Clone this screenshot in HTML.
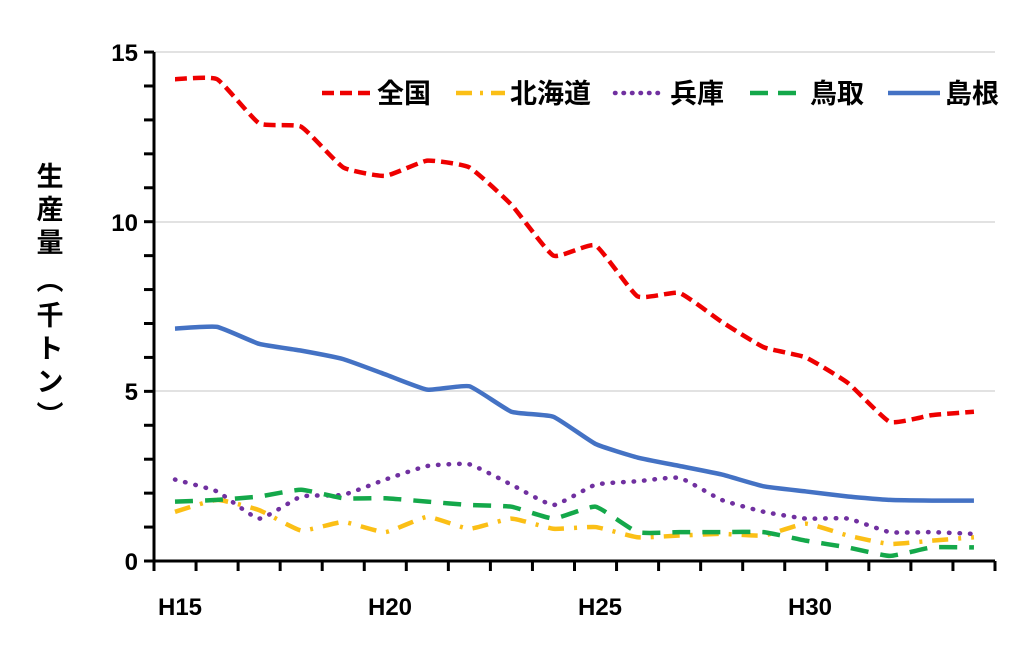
<!DOCTYPE html>
<html><head><meta charset="utf-8"><style>
body{margin:0;background:#fff;}
svg text{font-family:"Liberation Sans","Noto Sans CJK JP",sans-serif;font-weight:bold;fill:#000;}
</style></head><body>
<svg id="s" width="1024" height="642" xmlns="http://www.w3.org/2000/svg">
<g stroke="#d9d9d9" stroke-width="1.5">
<line x1="154" y1="52" x2="995" y2="52"/><line x1="154" y1="222" x2="995" y2="222"/><line x1="154" y1="391" x2="995" y2="391"/>
</g>
<g id="ax" stroke="#000" stroke-width="3"></g>
<g font-size="24" text-anchor="end">
<text x="138" y="61">15</text><text x="138" y="231">10</text><text x="138" y="400">5</text><text x="138" y="570">0</text>
</g>
<g font-size="24" text-anchor="middle">
<text x="180" y="615">H15</text><text x="390" y="615">H20</text><text x="600" y="615">H25</text><text x="810" y="615">H30</text>
</g>
<g font-size="27" text-anchor="middle">
<text x="50" y="186">生</text><text x="50" y="219">産</text><text x="50" y="252">量</text>
<text x="50" y="290">︵</text><text x="50" y="325">千</text><text x="50" y="358">ト</text><text x="50" y="391">ン</text><text x="50" y="425">︶</text>
</g>
<g id="series" fill="none" stroke-width="4.5"></g>
<g font-size="27">
<line x1="322" y1="93" x2="372" y2="93" stroke="#e00" stroke-width="4.5" stroke-dasharray="12,6"/><text x="377" y="103">全国</text>
<line x1="456" y1="93" x2="505" y2="93" stroke="#fbbf16" stroke-width="4.5" stroke-dasharray="16,8,3,8"/><text x="510" y="103">北海道</text>
<line x1="615" y1="93" x2="665" y2="93" stroke="#7030a0" stroke-width="4.5" stroke-dasharray="0.5,8" stroke-linecap="round"/><text x="670" y="103">兵庫</text>
<line x1="750" y1="93" x2="802" y2="93" stroke="#14a84a" stroke-width="4.5" stroke-dasharray="18,10"/><text x="810" y="103">鳥取</text>
<line x1="888" y1="93" x2="940" y2="93" stroke="#4472c4" stroke-width="4.5"/><text x="945" y="103">島根</text>
</g>
</svg>
<script>
var ns="http://www.w3.org/2000/svg";
function el(p,t,a){var e=document.createElementNS(ns,t);for(var k in a)e.setAttribute(k,a[k]);p.appendChild(e);return e;}
var ax=document.getElementById('ax');
el(ax,'line',{x1:154,y1:52,x2:154,y2:563});
el(ax,'line',{x1:152,y1:561,x2:995,y2:561});
for(var i=0;i<=15;i++){var y=561-i*33.93;el(ax,'line',{x1:144,y1:y,x2:154,y2:y});}
for(var i=0;i<=20;i++){var x=154+i*42.05;el(ax,'line',{x1:x,y1:561,x2:x,y2:571});}
var X=function(i){return 175+i*42.05;},Y=function(v){return 561-v*33.93;};
function path(d){var p=d.map(function(v,i){return[X(i),Y(v)];});var s='M'+p[0][0]+','+p[0][1];
for(var i=0;i<p.length-1;i++){var p0=p[i-1]||p[i],p1=p[i],p2=p[i+1],p3=p[i+2]||p2,t=14;
s+=' C'+(p1[0]+(p2[0]-p0[0])/t)+','+(p1[1]+(p2[1]-p0[1])/t)+' '+(p2[0]-(p3[0]-p1[0])/t)+','+(p2[1]-(p3[1]-p1[1])/t)+' '+p2[0]+','+p2[1];}
return s;}
var S=[
[[1.45,1.8,1.5,0.9,1.15,0.85,1.3,0.95,1.25,0.95,1.0,0.7,0.75,0.8,0.75,1.1,0.75,0.5,0.6,0.7],'#fbbf16','16,10,3,10','butt'],
[[2.4,2.05,1.25,1.9,1.95,2.4,2.8,2.85,2.25,1.65,2.25,2.35,2.45,1.8,1.45,1.25,1.25,0.85,0.85,0.8],'#7030a0','0.5,10','round'],
[[1.75,1.8,1.9,2.1,1.85,1.85,1.75,1.65,1.6,1.25,1.6,0.85,0.85,0.85,0.85,0.6,0.4,0.15,0.4,0.4],'#14a84a','18,12','butt'],
[[6.85,6.9,6.4,6.2,5.95,5.5,5.05,5.15,4.4,4.25,3.45,3.05,2.8,2.55,2.2,2.05,1.9,1.8,1.78,1.78],'#4472c4','none','butt'],
[[14.2,14.2,12.9,12.8,11.6,11.35,11.8,11.6,10.5,9.0,9.3,7.8,7.9,7.05,6.3,6.0,5.25,4.1,4.3,4.4],'#e00','12,6','butt']];
var g=document.getElementById('series');
S.forEach(function(s){el(g,'path',{d:path(s[0]),stroke:s[1],'stroke-dasharray':s[2],'stroke-linecap':s[3]});});
</script>
</body></html>
